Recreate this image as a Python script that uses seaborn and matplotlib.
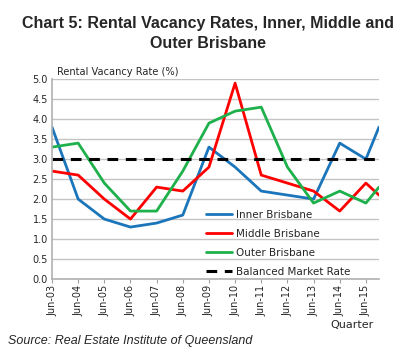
import pandas as pd
import numpy as np
import matplotlib
matplotlib.use('Agg')
import matplotlib.pyplot as plt
import seaborn as sns

# year positions: 0 = Jun-03 ... 12 = Jun-15, 12.5 = Dec-15
period = [0, 1, 2, 3, 4, 5, 6, 7, 8, 9, 10, 11, 12, 12.5]
inner = [3.8, 2.0, 1.5, 1.3, 1.4, 1.6, 3.3, 2.8, 2.2, 2.1, 2.0, 3.4, 3.0, 3.8]
middle = [2.7, 2.6, 2.0, 1.5, 2.3, 2.2, 2.8, 4.9, 2.6, 2.4, 2.2, 1.7, 2.4, 2.1]
outer = [3.3, 3.4, 2.4, 1.7, 1.7, 2.7, 3.9, 4.2, 4.3, 2.8, 1.9, 2.2, 1.9, 2.3]
balanced_rate = 3.0
tick_labels = ['Jun-03', 'Jun-04', 'Jun-05', 'Jun-06', 'Jun-07', 'Jun-08', 'Jun-09',
               'Jun-10', 'Jun-11', 'Jun-12', 'Jun-13', 'Jun-14', 'Jun-15']

df = pd.DataFrame({'period': period * 3,
                   'rate': inner + middle + outer,
                   'region': ['Inner Brisbane'] * len(period) + ['Middle Brisbane'] * len(period)
                             + ['Outer Brisbane'] * len(period)})

sns.set_style('white')
plt.rcParams['font.family'] = ['DejaVu Sans']

fig = plt.figure(figsize=(4.16, 3.55), dpi=100)
ax = fig.add_axes([0.125, 0.214, 0.786, 0.563])

pal = {'Inner Brisbane': '#1b75bb', 'Middle Brisbane': '#ff0000', 'Outer Brisbane': '#1db04b'}
sns.lineplot(data=df, x='period', y='rate', hue='region', palette=pal, linewidth=2, ax=ax)
ax.axhline(balanced_rate, color='black', lw=2.2, ls=(0, (3.5, 2.5)), label='Balanced Market Rate')

ax.set_xlim(0, 12.5)
ax.set_ylim(0, 5)
ax.set_yticks(np.arange(0, 5.01, 0.5))
ax.set_yticklabels(['%.1f' % v for v in np.arange(0, 5.01, 0.5)], fontsize=7)
ax.set_xticks(range(len(tick_labels)))
ax.set_xticklabels(tick_labels, rotation=90, fontsize=7)
ax.yaxis.grid(True, color='#c4c4c4', lw=1)
ax.set_axisbelow(True)
ax.tick_params(axis='x', direction='out', length=3, color='#a0a0a0', bottom=True, pad=1)
ax.tick_params(axis='y', length=0, pad=3)
for s in ['top', 'right']:
    ax.spines[s].set_visible(False)
for s in ['left', 'bottom']:
    ax.spines[s].set_color('#b0b0b0')
    ax.spines[s].set_linewidth(1.2)
ax.set_xlabel('')
ax.set_ylabel('')

ax.text(0.015, 1.01, 'Rental Vacancy Rate (%)', transform=ax.transAxes, fontsize=7.1, va='bottom')
fig.text(0.897, 0.075, 'Quarter', fontsize=8, ha='right')

ax.legend(loc='lower right', bbox_to_anchor=(0.94, -0.035), frameon=False, fontsize=7.5,
          handlelength=2.5, handletextpad=0.3, labelspacing=0.85)

fig.text(0.5, 0.955, 'Chart 5: Rental Vacancy Rates, Inner, Middle and\nOuter Brisbane',
         ha='center', va='top', fontsize=11.5, fontweight='bold', family='Liberation Sans',
         linespacing=1.45)
fig.text(0.02, 0.03, 'Source: Real Estate Institute of Queensland', fontsize=9,
         style='italic', family='Liberation Sans')

fig.savefig('out.png', dpi=100)
